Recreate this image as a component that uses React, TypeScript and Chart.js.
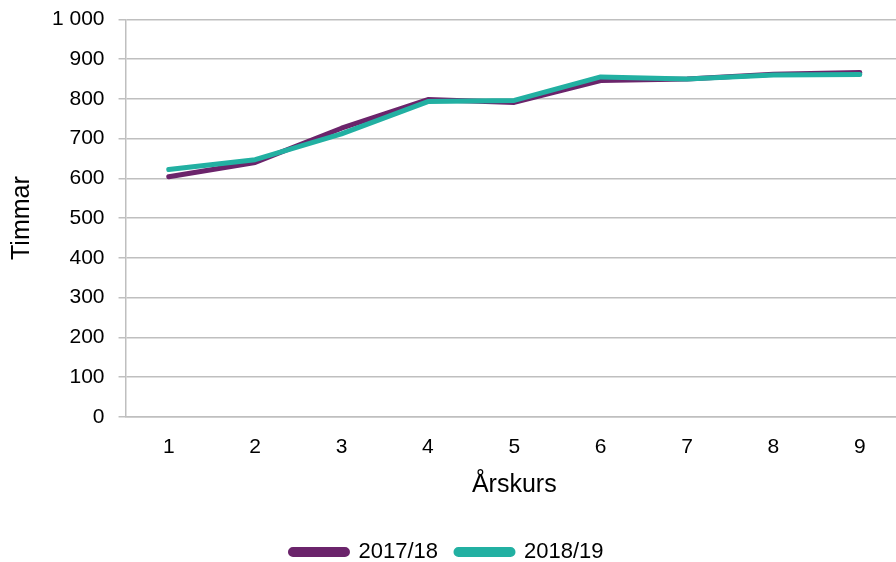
import React, { useEffect, useRef } from "react";
import { Chart, registerables } from "chart.js";

Chart.register(...registerables);

const categories = ["1", "2", "3", "4", "5", "6", "7", "8", "9"];
const series2017 = [604, 640, 726, 798, 791, 846, 850, 862, 866];
const series2018 = [622, 647, 712, 793, 796, 855, 850, 860, 861];
const seriesNames = ["2017/18", "2018/19"];
const yTitle = "Timmar";
const xTitle = "Årskurs";

const PURPLE = "#6B246B";
const TEAL = "#22B0A2";
const GRID = "#BFBFBF";
const FONT = "'Liberation Sans', Arial, sans-serif";

export default function App() {
  const ref = useRef<HTMLCanvasElement | null>(null);

  useEffect(() => {
    if (!ref.current) return;
    const chart = new Chart(ref.current, {
      type: "line",
      data: {
        labels: categories,
        datasets: [
          {
            label: seriesNames[0],
            data: series2017,
            borderColor: PURPLE,
            backgroundColor: PURPLE,
            borderWidth: 5,
            pointRadius: 0,
            tension: 0,
            borderCapStyle: "round",
            borderJoinStyle: "round",
            order: 2,
          },
          {
            label: seriesNames[1],
            data: series2018,
            borderColor: TEAL,
            backgroundColor: TEAL,
            borderWidth: 5,
            pointRadius: 0,
            tension: 0,
            borderCapStyle: "round",
            borderJoinStyle: "round",
            order: 1,
          },
        ],
      },
      options: {
        animation: false,
        responsive: false,
        maintainAspectRatio: false,
        layout: { padding: { left: -9, right: 1, top: 5, bottom: -11 } },
        plugins: {
          tooltip: { enabled: false },
          legend: {
            position: "bottom",
            labels: {
              color: "#000",
              font: { family: FONT, size: 22, lineHeight: 1 },
              boxWidth: 57,
              boxHeight: 5,
              useBorderRadius: true,
              borderRadius: 2.5,
              padding: 18,
              sort: (a: any, b: any) => a.datasetIndex - b.datasetIndex,
            },
          },
        },
        scales: {
          x: {
            offset: true,
            grid: { display: false, drawTicks: false },
            border: { display: true, color: GRID, width: 1.5 },
            ticks: {
              color: "#000",
              font: { family: FONT, size: 21, lineHeight: 1 },
              padding: 20,
            },
            title: {
              display: true,
              text: xTitle,
              color: "#000",
              font: { family: FONT, size: 25, lineHeight: 1 },
              padding: { top: -5, bottom: 25 },
            },
          },
          y: {
            min: 0,
            max: 1000,
            ticks: {
              stepSize: 100,
              color: "#000",
              font: { family: FONT, size: 21, lineHeight: 0.5 },
              padding: 14,
              callback: (v: any) => {
                const n = Number(v);
                return n >= 1000 ? String(n).replace(/\B(?=(\d{3})+(?!\d))/g, " ") : String(n);
              },
            },
            grid: { color: GRID, lineWidth: 1.5, tickLength: 7 },
            border: { display: true, color: GRID, width: 1.5 },
            title: {
              display: true,
              text: yTitle,
              color: "#000",
              font: { family: FONT, size: 25 },
              padding: { top: 16, bottom: 1 },
            },
          },
        },
      },
    });
    return () => chart.destroy();
  }, []);

  return (
    <div style={{ position: "fixed", left: 0, top: 0, width: 896, height: 562, overflow: "hidden", background: "#fff" }}>
      <canvas ref={ref} width={904} height={562} style={{ display: "block", width: 904, height: 562 }} />
    </div>
  );
}
